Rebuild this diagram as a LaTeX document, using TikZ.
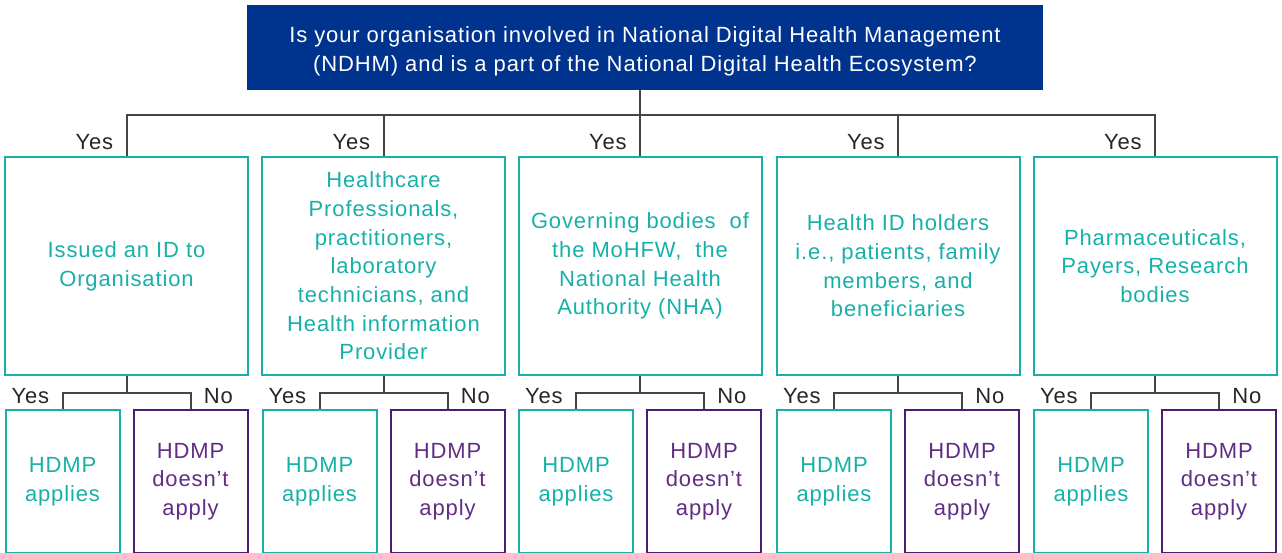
\documentclass[tikz,border=0pt]{standalone}
\usepackage{fontspec}
\setmainfont[LetterSpace=4]{Liberation Sans}
\usetikzlibrary{calc}
\definecolor{kblue}{HTML}{00338D}
\definecolor{kteal}{HTML}{17B0A9}
\definecolor{kpurple}{HTML}{4F1B70}
\definecolor{kpurpletext}{HTML}{612C86}
\definecolor{kgray}{HTML}{454545}
\begin{document}
\begin{tikzpicture}[x=0.75pt, y=-0.75pt,
    every node/.style={font=\fontsize{16.5pt}{21.5pt}\selectfont, align=center, inner sep=0pt},
    question/.style={fill=kblue, text=white, minimum width=597pt, minimum height=63.75pt},
    branch/.style={draw=kteal, line width=1.5pt, text=kteal, minimum width=182.25pt, minimum height=163.5pt},
    applies/.style={draw=kteal, line width=1.5pt, text=kteal, minimum width=85.5pt, minimum height=107.25pt},
    notapply/.style={draw=kpurple, line width=1.5pt, text=kpurpletext, minimum width=85.5pt, minimum height=107.25pt},
    link/.style={draw=kgray, line width=1.5pt},
    answer/.style={text=black!85}]
    \useasboundingbox (0,0) rectangle (1282,553);

    % strut on the first line sets the text a little lower in the box
    \node[question] (q) at (645,47.5) {\rule{0pt}{18pt}Is your organisation involved in National Digital Health Management\\(NDHM) and is a part of the National Digital Health Ecosystem?};

    % the five groups of organisations
    \node[branch] (m1) at (126.5,266) {Issued an ID to\\Organisation};
    \node[branch] (m2) at (383.5,266) {Healthcare\\Professionals,\\practitioners,\\laboratory\\technicians, and\\Health information\\Provider};
    \node[branch] (m3) at (640,266) {Governing bodies~ of\\the MoHFW,~ the\\National Health\\Authority (NHA)};
    \node[branch] (m4) at (898,266) {Health ID holders\\i.e., patients, family\\members, and\\beneficiaries};
    \node[branch] (m5) at (1155,266) {Pharmaceuticals,\\Payers, Research\\bodies};

    \coordinate (bus) at (0,115);
    \foreach \i in {1,...,5}{
        \draw[link] (m3.north |- q.south) -- (m3.north |- bus) -| (m\i.north);
        \node[answer, anchor=base east] (yes\i) at ($(m\i.north)+(-13,-7)$) {Yes};

        % yes / no outcome under each group
        \node[applies] (a\i) at ($(m\i.south)+(-64,105.5)$) {HDMP\\applies};
        \node[notapply] (n\i) at ($(m\i.south)+(64,105.5)$) {HDMP\\doesn’t\\apply};
        \coordinate (fork\i) at ($(m\i.south)+(0,17)$);
        \draw[link] (m\i.south) -- (fork\i);
        \draw[link] (a\i.north) |- (fork\i) -| (n\i.north);
        \node[answer, anchor=base east] (ya\i) at ($(a\i.north)+(-13,-6)$) {Yes};
        \node[answer, anchor=base west] (no\i) at ($(n\i.north)+(13,-6)$) {No};
    }
\end{tikzpicture}
\end{document}
